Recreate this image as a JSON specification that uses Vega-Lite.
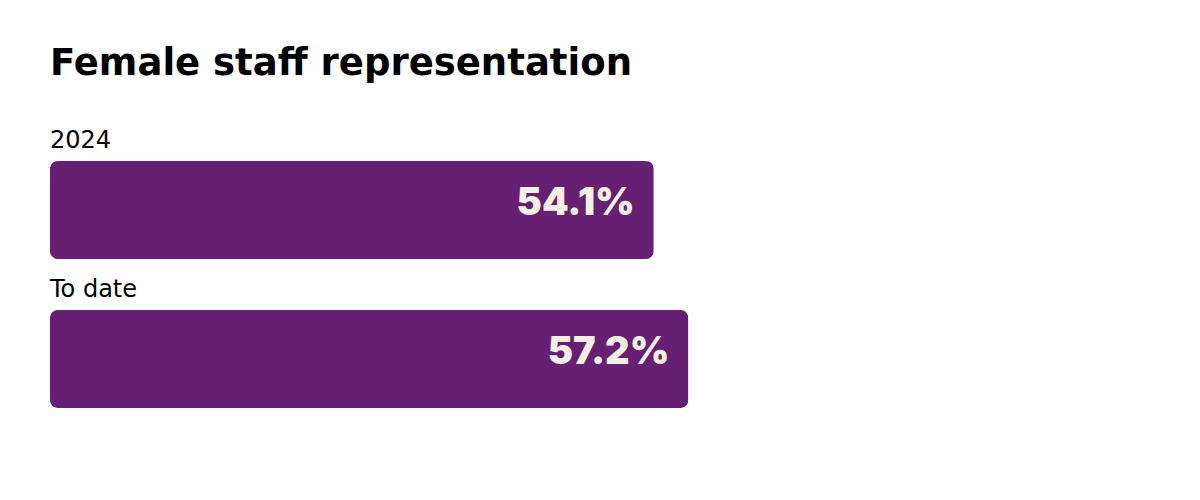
{
  "$schema": "https://vega.github.io/schema/vega-lite/v6.json",
  "width": 1116,
  "height": 247,
  "autosize": {"type": "none"},
  "padding": {"left": 50, "top": 161, "right": 34, "bottom": 92},
  "background": "white",
  "title": {
    "text": "Female staff representation",
    "anchor": "start",
    "font": "DejaVu Sans",
    "fontSize": 37,
    "fontWeight": "bold",
    "color": "#000000",
    "offset": 46
  },
  "data": {
    "values": [
      {"label": "2024", "value": 54.1, "text": "54.1%"},
      {"label": "To date", "value": 57.2, "text": "57.2%"}
    ]
  },
  "encoding": {
    "y": {
      "field": "label",
      "type": "nominal",
      "sort": null,
      "axis": null,
      "scale": {"paddingInner": 0.342, "paddingOuter": 0}
    }
  },
  "layer": [
    {
      "mark": {"type": "bar", "color": "#661f72", "cornerRadius": 8},
      "encoding": {
        "x": {"field": "value", "type": "quantitative", "axis": null, "scale": {"domain": [0, 100]}}
      }
    },
    {
      "mark": {"type": "text", "align": "left", "baseline": "alphabetic", "dy": -13, "font": "DejaVu Sans", "fontSize": 24, "fontWeight": "normal", "color": "#000000"},
      "encoding": {
        "x": {"datum": 0, "type": "quantitative"},
        "y": {"field": "label", "type": "nominal", "sort": null, "bandPosition": 0},
        "text": {"field": "label"}
      }
    },
    {
      "mark": {"type": "text", "align": "right", "baseline": "alphabetic", "dx": -19, "dy": 5, "font": "Inter", "fontSize": 38, "fontWeight": 900, "color": "#f2f0e2"},
      "encoding": {
        "x": {"field": "value", "type": "quantitative"},
        "text": {"field": "text"}
      }
    }
  ],
  "config": {"view": {"stroke": null}}
}
